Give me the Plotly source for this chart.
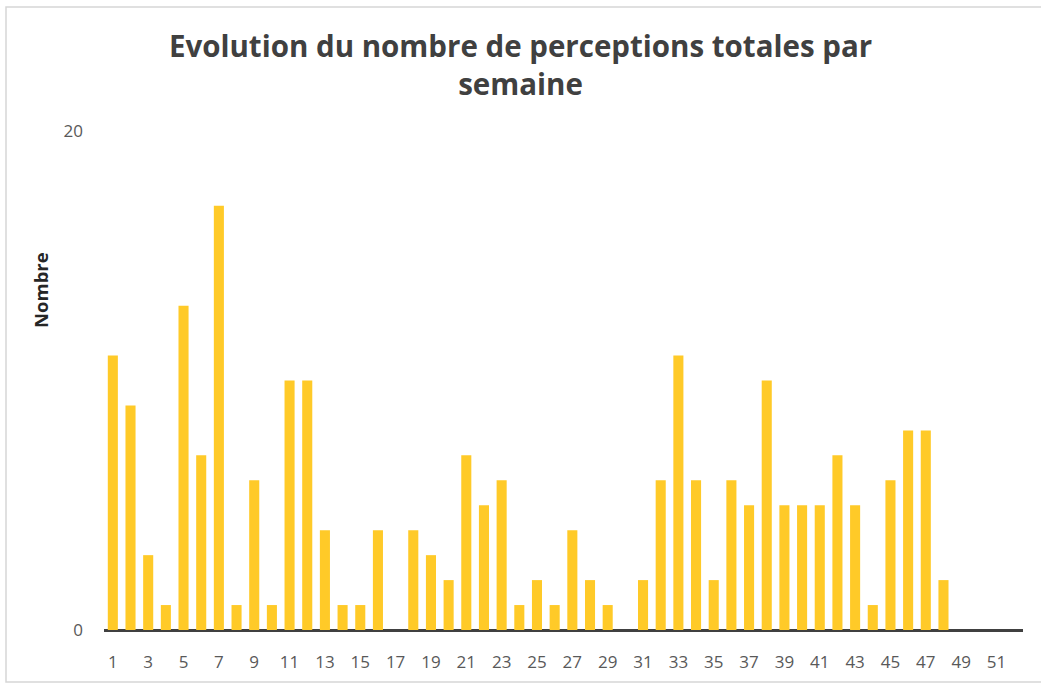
import plotly.graph_objects as go

weeks = [str(i) for i in range(1, 53)]
values = [11, 9, 3, 1, 13, 7, 17, 1, 6, 1, 10, 10, 4, 1, 1, 4, 0, 4, 3, 2,
          7, 5, 6, 1, 2, 1, 4, 2, 1, 0, 2, 6, 11, 6, 2, 6, 5, 10, 5, 5,
          5, 7, 5, 1, 6, 8, 8, 2, 0, 0, 0, 0]
tick_labels = [str(i) for i in range(1, 53, 2)]

W, H = 1041, 684
L, R, T, B = 104, 18, 131, 54
pw, ph = W - L - R, H - T - B
FONT = "Open Sans, Noto Sans, sans-serif"

fig = go.Figure(go.Bar(
    x=weeks, y=values,
    marker=dict(color="#FFCA28", line=dict(width=0)),
    hoverinfo="x+y",
))

fig.update_layout(
    width=W, height=H,
    margin=dict(l=L, r=R, t=T, b=B),
    paper_bgcolor="white", plot_bgcolor="white",
    bargap=0.43,
    showlegend=False,
    font=dict(family=FONT, color="#595959"),
    title=dict(
        text="<b>Evolution du nombre de perceptions totales par<br>semaine</b>",
        x=0.5, xanchor="center", y=1 - 57 / H, yanchor="top",
        font=dict(size=29.5, color="#404040", family=FONT),
    ),
    xaxis=dict(
        type="category",
        tickmode="array", tickvals=tick_labels, ticktext=tick_labels,
        showgrid=False, showline=False, zeroline=False,
        ticks="", tickfont=dict(size=17, color="#595959"),
        ticklabelstandoff=20,
    ),
    yaxis=dict(
        range=[0, 20], tickvals=[0, 20],
        showgrid=True, gridcolor="#E0E0E0", gridwidth=1,
        zeroline=True, zerolinecolor="#404040", zerolinewidth=3,
        showline=False, ticks="",
        tickfont=dict(size=17, color="#595959"),
        ticklabelstandoff=20,
    ),
)

# y-axis title (placed as in the reference, above the plot centre)
fig.add_annotation(
    text="<b>Nombre</b>", textangle=-90,
    xref="paper", yref="paper",
    x=(40 - L) / pw, y=(H - B - 290) / ph,
    xanchor="center", yanchor="middle", showarrow=False,
    font=dict(size=18.5, color="#262626", family=FONT),
)

# outer chart border
fig.add_shape(
    type="rect", xref="paper", yref="paper",
    x0=(6 - L) / pw, x1=(1060 - L) / pw,
    y0=(H - B - 682) / ph, y1=(H - B - 7) / ph,
    line=dict(color="#D6D6D6", width=1.5), fillcolor="rgba(0,0,0,0)", layer="below",
)

fig.write_html(
    "out.html",
    config={"displayModeBar": False},
    post_script="document.body.style.margin='0';document.body.style.overflow='hidden';",
)
